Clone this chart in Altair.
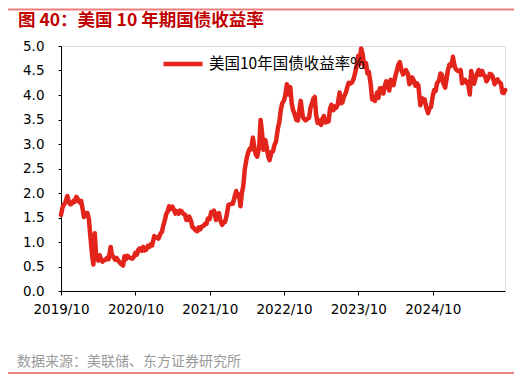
import altair as alt
import pandas as pd

series_name = "美国10年国债收益率%"
title_text = "图 40：美国 10 年期国债收益率"
source_text = "数据来源：美联储、东方证券研究所"

# weekly readings per month (days 1, 8, 15, 22)
months = [
    "2019-10", "2019-11", "2019-12",
    "2020-01", "2020-02", "2020-03", "2020-04", "2020-05", "2020-06",
    "2020-07", "2020-08", "2020-09", "2020-10", "2020-11", "2020-12",
    "2021-01", "2021-02", "2021-03", "2021-04", "2021-05", "2021-06",
    "2021-07", "2021-08", "2021-09", "2021-10", "2021-11", "2021-12",
    "2022-01", "2022-02", "2022-03", "2022-04", "2022-05", "2022-06",
    "2022-07", "2022-08", "2022-09", "2022-10", "2022-11", "2022-12",
    "2023-01", "2023-02", "2023-03", "2023-04", "2023-05", "2023-06",
    "2023-07", "2023-08", "2023-09", "2023-10", "2023-11", "2023-12",
    "2024-01", "2024-02", "2024-03", "2024-04", "2024-05", "2024-06",
    "2024-07", "2024-08", "2024-09", "2024-10", "2024-11", "2024-12",
    "2025-01", "2025-02", "2025-03", "2025-04", "2025-05", "2025-06",
    "2025-07", "2025-08", "2025-09",
]
days = ["01", "08", "15", "22"]
yields = [
    [1.55, 1.70, 1.76, 1.80], [1.94, 1.83, 1.77, 1.78], [1.84, 1.82, 1.92, 1.88],
    [1.81, 1.84, 1.68, 1.51], [1.59, 1.59, 1.47, 1.13], [0.77, 0.54, 1.18, 0.67],
    [0.62, 0.73, 0.64, 0.60], [0.63, 0.64, 0.68, 0.65], [0.90, 0.71, 0.70, 0.64],
    [0.67, 0.62, 0.59, 0.55], [0.52, 0.71, 0.65, 0.72], [0.68, 0.67, 0.66, 0.69],
    [0.78, 0.74, 0.84, 0.87], [0.82, 0.90, 0.83, 0.84], [0.92, 0.90, 0.95, 0.93],
    [1.12, 1.10, 1.09, 1.07], [1.17, 1.21, 1.34, 1.44], [1.57, 1.62, 1.73, 1.67],
    [1.72, 1.66, 1.58, 1.63], [1.58, 1.64, 1.63, 1.58], [1.56, 1.45, 1.45, 1.52],
    [1.43, 1.30, 1.29, 1.24], [1.22, 1.30, 1.26, 1.31], [1.33, 1.37, 1.37, 1.48],
    [1.47, 1.61, 1.59, 1.64], [1.45, 1.57, 1.59, 1.44], [1.35, 1.40, 1.41, 1.52],
    [1.76, 1.77, 1.78, 1.78], [1.93, 2.04, 1.93, 1.97], [1.73, 2.00, 2.15, 2.48],
    [2.72, 2.83, 2.90, 2.89], [3.13, 2.93, 2.79, 2.74], [2.94, 3.49, 3.23, 2.88],
    [3.08, 2.93, 2.75, 2.67], [2.84, 2.85, 2.98, 3.04], [3.32, 3.45, 3.69, 3.83],
    [3.89, 4.01, 4.22, 4.01], [4.16, 3.82, 3.69, 3.61], [3.49, 3.48, 3.68, 3.88],
    [3.56, 3.51, 3.48, 3.51], [3.53, 3.74, 3.82, 3.92], [3.96, 3.59, 3.43, 3.48],
    [3.39, 3.52, 3.57, 3.44], [3.45, 3.46, 3.72, 3.80], [3.69, 3.77, 3.74, 3.81],
    [4.05, 3.83, 3.85, 3.96], [4.05, 4.16, 4.25, 4.23], [4.26, 4.33, 4.44, 4.57],
    [4.80, 4.63, 4.95, 4.84], [4.57, 4.65, 4.44, 4.47], [4.22, 3.91, 3.92, 3.88],
    [4.05, 3.94, 4.14, 4.14], [4.03, 4.18, 4.28, 4.25], [4.09, 4.31, 4.22, 4.20],
    [4.40, 4.50, 4.62, 4.67], [4.50, 4.42, 4.46, 4.51], [4.43, 4.22, 4.26, 4.36],
    [4.28, 4.19, 4.24, 4.20], [3.79, 3.94, 3.86, 3.91], [3.72, 3.63, 3.73, 3.75],
    [3.98, 4.10, 4.08, 4.24], [4.30, 4.44, 4.41, 4.24], [4.15, 4.33, 4.52, 4.62],
    [4.60, 4.78, 4.62, 4.53], [4.49, 4.48, 4.51, 4.24], [4.30, 4.31, 4.25, 4.27],
    [4.01, 4.49, 4.34, 4.23], [4.37, 4.45, 4.51, 4.41], [4.49, 4.41, 4.38, 4.28],
    [4.34, 4.43, 4.42, 4.38], [4.22, 4.29, 4.32, 4.27], [4.23, 4.05, 4.04, 4.10],
]
y_ticks = [0.0, 0.5, 1.0, 1.5, 2.0, 2.5, 3.0, 3.5, 4.0, 4.5, 5.0]
x_tick_years = [2019, 2020, 2021, 2022, 2023, 2024]

rows = []
for m, vals in zip(months, yields):
    for d, v in zip(days, vals):
        rows.append({"date": f"{m}-{d}", "value": v, "series": series_name})
df = pd.DataFrame(rows)

RED = "#e3241b"
W, H = 444, 245
AXIS_FONT = "DejaVu Sans"

line = alt.Chart(df).mark_line(strokeWidth=4.5, strokeJoin="round", strokeCap="round").encode(
    x=alt.X(
        "date:T",
        scale=alt.Scale(domain=["2019-10-01", "2025-09-21"]),
        axis=alt.Axis(
            values=[alt.DateTime(year=y, month=10, date=1) for y in x_tick_years],
            format="%Y/%m",
            title=None,
            grid=False,
            labelFont=AXIS_FONT,
            labelFontSize=13.5,
            labelColor="#000000",
            labelPadding=7,
            tickSize=4,
            tickColor="#000000",
            domainColor="#000000",
            labelFlush=False,
            labelOverlap=False,
        ),
    ),
    y=alt.Y(
        "value:Q",
        scale=alt.Scale(domain=[0, 5], nice=False, zero=True),
        axis=alt.Axis(
            values=y_ticks,
            format=".1f",
            title=None,
            grid=False,
            labelFont=AXIS_FONT,
            labelFontSize=13.5,
            labelColor="#000000",
            labelPadding=14,
            tickSize=3,
            tickColor="#000000",
            domainColor="#000000",
            labelFlush=False,
            labelOverlap=False,
        ),
    ),
    color=alt.Color(
        "series:N",
        scale=alt.Scale(range=[RED]),
        legend=alt.Legend(
            title=None,
            orient="none",
            legendX=100,
            legendY=-4,
            padding=0,
            symbolType="stroke",
            symbolSize=1521,
            symbolStrokeWidth=4.5,
            symbolStrokeColor=RED,
            labelFont="Noto Sans CJK SC",
            labelFontSize=15.5,
            labelColor="#000000",
            labelOffset=4,
        ),
    ),
)

title_df = pd.DataFrame({"t": [title_text]})
title_mark = alt.Chart(title_df).mark_text(
    align="left", baseline="middle", font="Noto Sans CJK SC", fontSize=17.5,
    fontWeight="bold", color="#c00000",
).encode(text="t:N", x=alt.value(-43), y=alt.value(-25))

source_df = pd.DataFrame({"t": [source_text]})
source_mark = alt.Chart(source_df).mark_text(
    align="left", baseline="middle", font="Noto Sans CJK SC", fontSize=14,
    color="#9a9a9a",
).encode(text="t:N", x=alt.value(-44), y=alt.value(316))

top_rule = alt.Chart(title_df).mark_rule(color="#ef7f7f", strokeWidth=2).encode(
    x=alt.value(-54), x2=alt.value(456), y=alt.value(-36.5)
)
bottom_rule = alt.Chart(title_df).mark_rule(color="#e35b5b", strokeWidth=1.5).encode(
    x=alt.value(-56), x2=alt.value(455), y=alt.value(327)
)

chart = alt.layer(line, title_mark, source_mark, top_rule, bottom_rule).properties(
    width=W, height=H,
    padding={"left": 53, "top": 38, "right": 9, "bottom": 83},
    autosize=alt.AutoSizeParams(type="none"),
).configure_view(stroke=None).configure(background="#ffffff")

chart.save("out.html", embed_options={"renderer": "svg", "actions": False})
